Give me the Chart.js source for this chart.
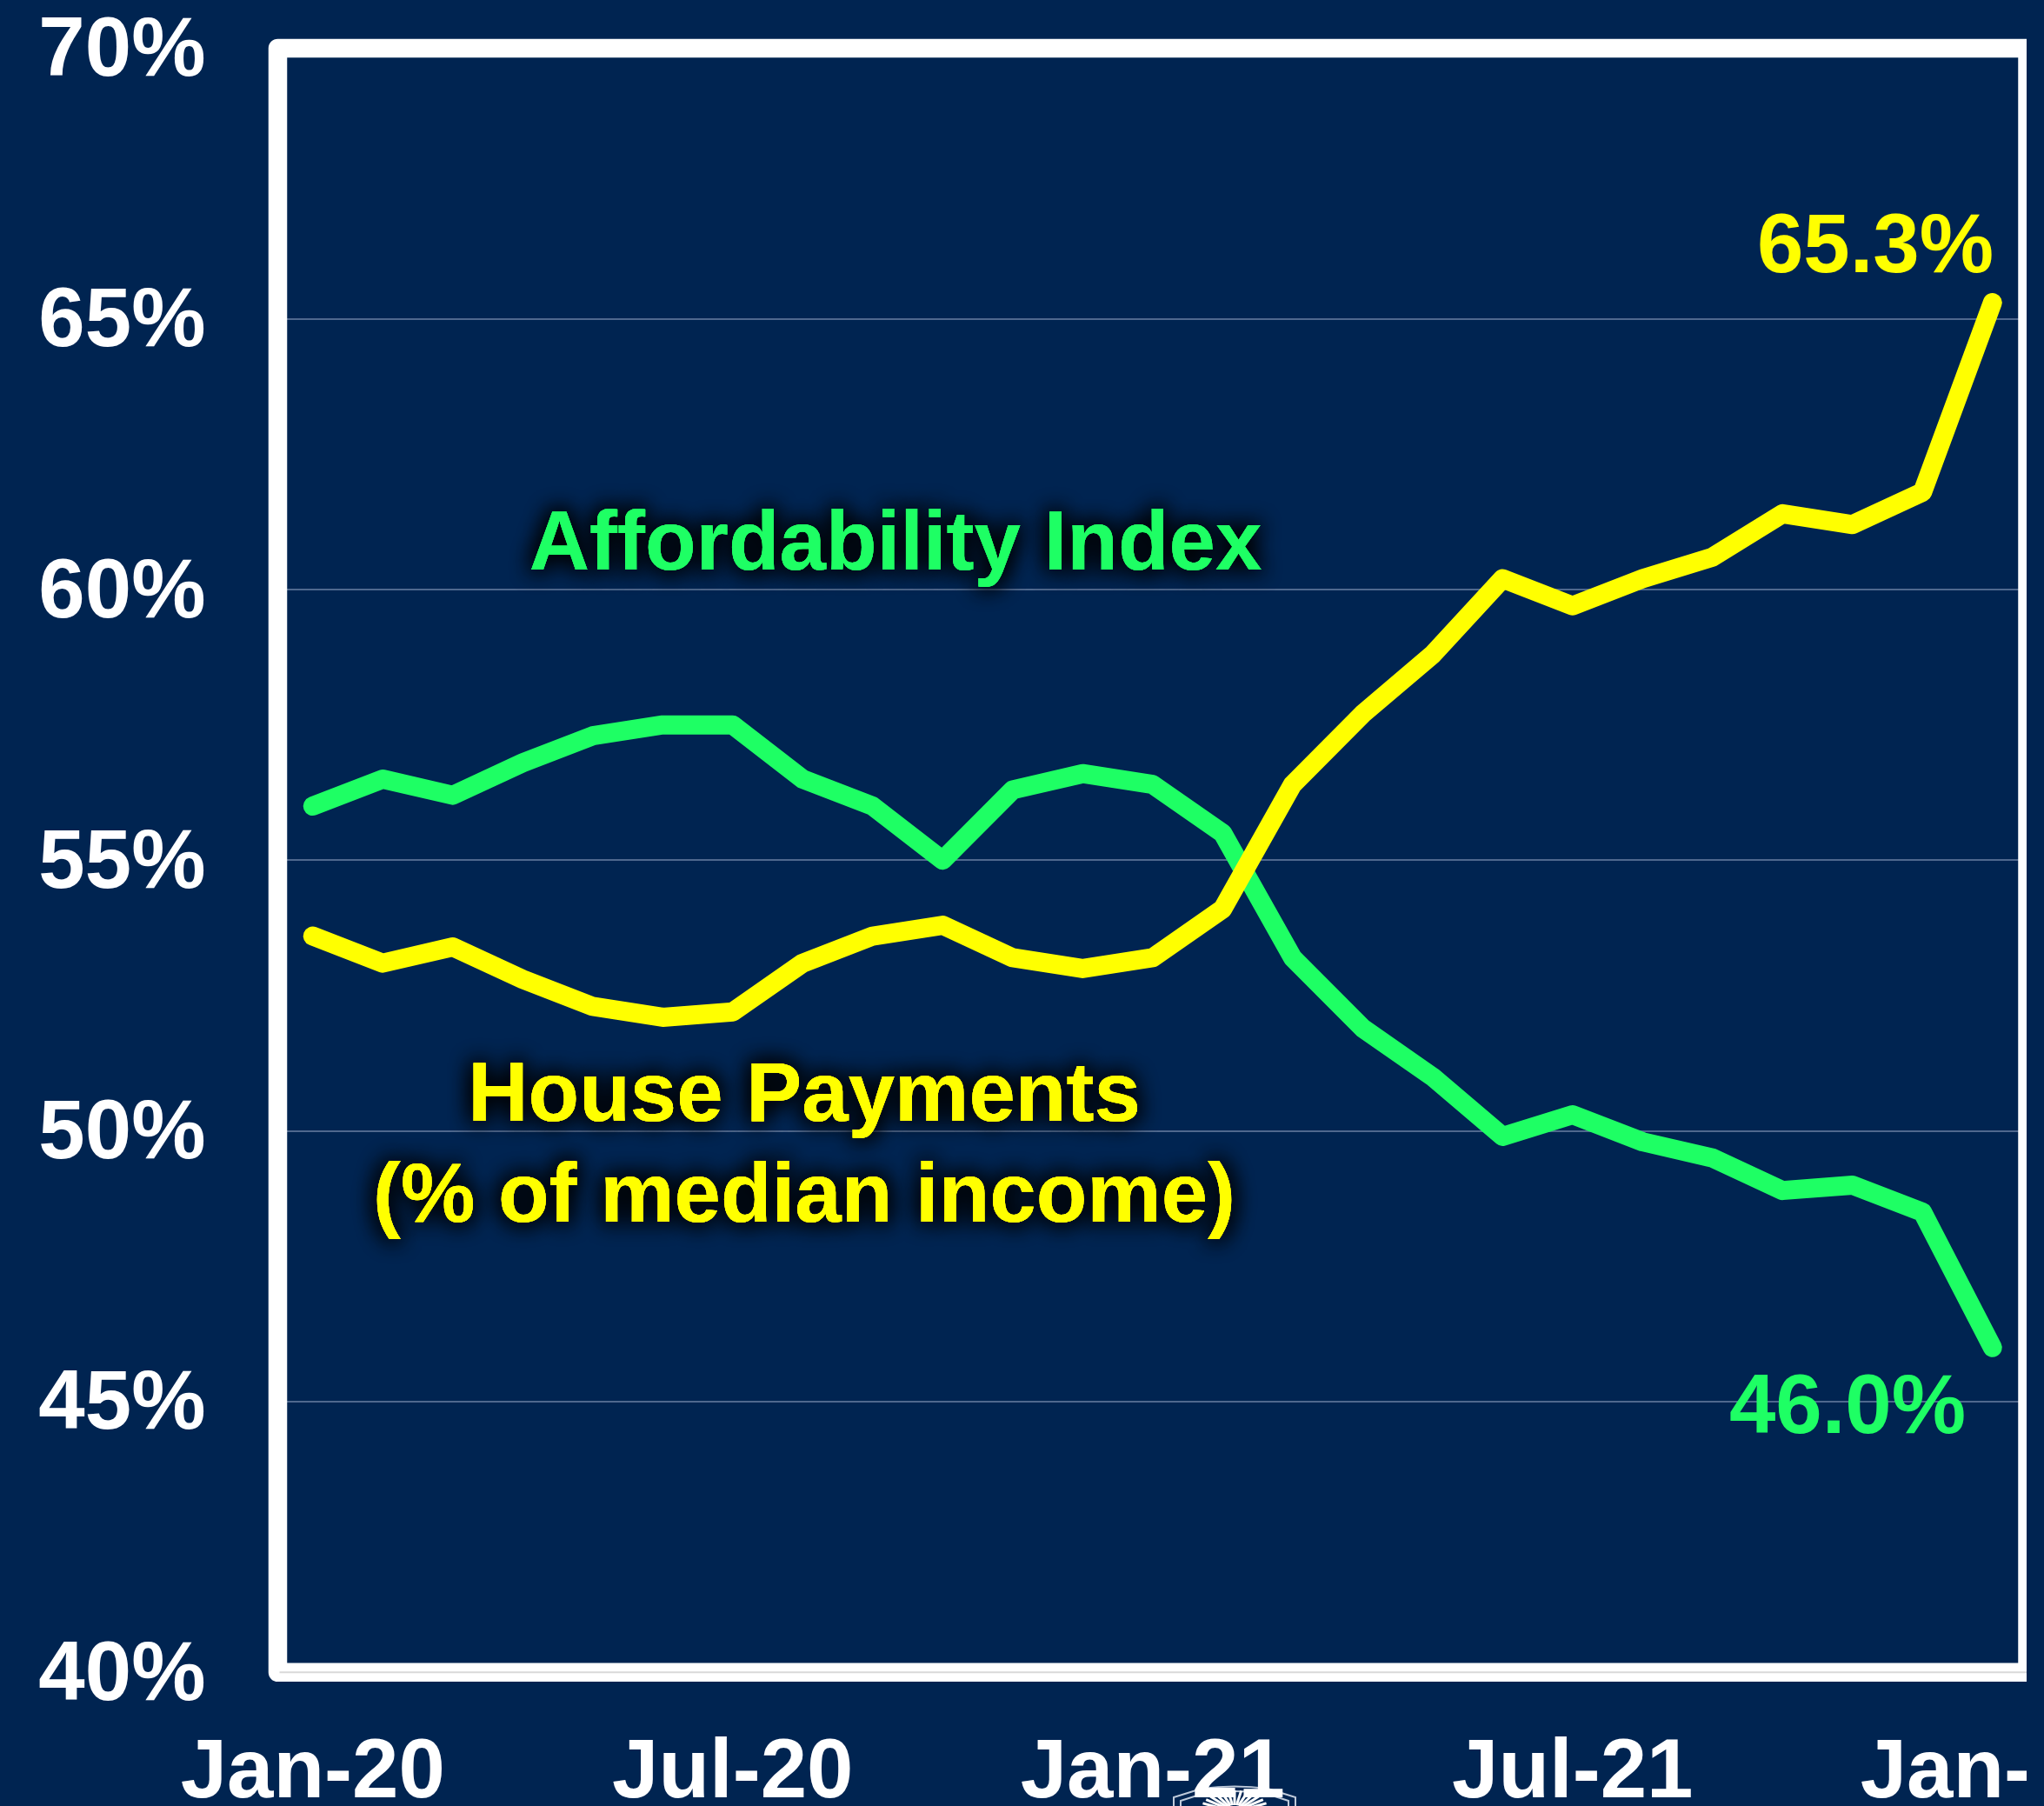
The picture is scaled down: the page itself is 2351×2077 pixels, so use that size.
<!DOCTYPE html>
<html>
<head>
<meta charset="utf-8">
<style>
html,body{margin:0;padding:0;background:#002451;overflow:hidden}
canvas{display:block;position:absolute;left:0;top:0}
</style>
<script src="https://cdn.jsdelivr.net/npm/chart.js@4"></script>
</head>
<body>
<canvas id="c" width="2351" height="2077"></canvas>
<script>
const months = ["Jan-20","Feb-20","Mar-20","Apr-20","May-20","Jun-20","Jul-20","Aug-20","Sep-20","Oct-20","Nov-20","Dec-20",
  "Jan-21","Feb-21","Mar-21","Apr-21","May-21","Jun-21","Jul-21","Aug-21","Sep-21","Oct-21","Nov-21","Dec-21","Jan-22"];
const shownLabels = ["Jan-20","Jul-20","Jan-21","Jul-21","Jan-22"];
const affordability = [56.0,56.5,56.2,56.8,57.3,57.5,57.5,56.5,56.0,55.0,56.3,56.6,56.4,55.5,53.2,51.9,51.0,49.9,50.3,49.8,49.5,48.9,49.0,48.5,46.0];
const housePayments = [53.6,53.1,53.4,52.8,52.3,52.1,52.2,53.1,53.6,53.8,53.2,53.0,53.2,54.1,56.4,57.7,58.8,60.2,59.7,60.2,60.6,61.4,61.2,61.8,65.3];

const NAVY = "#002451", GREEN = "#1EFF64", YELLOW = "#FFFF00";
const FONT = '"Liberation Sans", Arial, sans-serif';

const notes = [
  {text:"Affordability Index", x:1030, y:655, color:GREEN, glow:true},
  {text:"House Payments", x:925, y:1289, color:YELLOW, glow:true},
  {text:"(% of median income)", x:925, y:1405, color:YELLOW, glow:true},
  {text:"65.3%", x:2157, y:313, color:YELLOW, glow:false},
  {text:"46.0%", x:2125, y:1648, color:GREEN, glow:false}
];

const decor = {
  id:"decor",
  afterLayout(chart){
    for (const item of chart.scales.y.getLabelItems()) {
      item.options.translation[1] += 5;
    }
  },
  beforeDraw(chart){
    const g = chart.ctx;
    g.save();
    g.strokeStyle = "rgba(225,232,242,.85)";
    g.lineWidth = 2;
    g.beginPath();
    g.moveTo(1350,2077); g.lineTo(1350,2067); g.lineTo(1382,2057);
    g.quadraticCurveTo(1420,2052,1458,2057); g.lineTo(1490,2067); g.lineTo(1490,2077);
    g.stroke();
    g.beginPath();
    g.moveTo(1358,2077); g.lineTo(1358,2071); g.lineTo(1386,2062);
    g.quadraticCurveTo(1420,2058,1454,2062); g.lineTo(1482,2071); g.lineTo(1482,2077);
    g.stroke();
    g.strokeStyle = "#ffffff";
    g.lineWidth = 3;
    for (let a = -66; a <= 66; a += 11) {
      const r = a * Math.PI / 180;
      g.beginPath();
      g.moveTo(1420 + Math.sin(r)*12, 2084 - Math.cos(r)*8);
      g.lineTo(1420 + Math.sin(r)*40, 2084 - Math.cos(r)*25);
      g.stroke();
    }
    g.restore();
  },
  beforeDatasetsDraw(chart){
    const g = chart.ctx, a = chart.chartArea;
    g.save();
    g.strokeStyle = "#ffffff";
    g.lineWidth = 21.5;
    g.lineJoin = "round";
    g.strokeRect(a.left, a.top, a.right - a.left, a.bottom - a.top);
    g.strokeStyle = "#d9d9d9";
    g.lineWidth = 2;
    g.beginPath();
    g.moveTo(a.left + 2, a.bottom); g.lineTo(a.right, a.bottom);
    g.stroke();
    g.restore();
  },
  afterDatasetsDraw(chart){
    const g = chart.ctx;
    g.save();
    g.font = "bold 96px " + FONT;
    g.textAlign = "center";
    g.textBaseline = "alphabetic";
    for (const n of notes) {
      g.fillStyle = n.color;
      if (n.glow) {
        g.shadowColor = "rgba(0,0,0,.9)";
        g.shadowBlur = 26;
        g.fillText(n.text, n.x, n.y);
        g.fillText(n.text, n.x, n.y);
        g.fillText(n.text, n.x, n.y);
      }
      g.shadowBlur = 0;
      g.fillText(n.text, n.x, n.y);
    }
    g.restore();
  },
  afterDraw(chart){
    const g = chart.ctx;
    g.fillStyle = NAVY;
    g.fillRect(2331, 0, 20, 2077);
  }
};

new Chart(document.getElementById("c"), {
  type:"line",
  plugins:[decor],
  data:{
    labels:months,
    datasets:[
      {label:"Affordability Index", data:affordability, borderColor:GREEN, order:2},
      {label:"House Payments (% of median income)", data:housePayments, borderColor:YELLOW, order:1}
    ]
  },
  options:{
    responsive:false,
    animation:false,
    layout:{padding:{left:0,right:19,top:55.4,bottom:0}},
    elements:{
      line:{borderWidth:22,borderCapStyle:"round",borderJoinStyle:"round",tension:0,fill:false},
      point:{radius:0,hoverRadius:0}
    },
    plugins:{legend:{display:false},tooltip:{enabled:false},title:{display:false}},
    scales:{
      x:{
        type:"category",
        offset:true,
        grid:{display:false,drawTicks:false},
        border:{display:false},
        ticks:{
          autoSkip:false,maxRotation:0,minRotation:0,padding:60,color:"#ffffff",
          font:{family:FONT,weight:"bold",size:96},
          callback(v,i){ const t = months[i]; return shownLabels.includes(t) ? t : ""; }
        },
        afterFit(s){ s.height = 153.7; s.paddingLeft = 0; s.paddingRight = 0; }
      },
      y:{
        min:40,max:70,
        grid:{color:"#4f688e",lineWidth:2,drawTicks:false},
        border:{display:false},
        ticks:{
          stepSize:5,padding:83,color:"#ffffff",
          font:{family:FONT,weight:"bold",size:96},
          callback(v){ return v + "%"; }
        },
        afterFit(s){ s.width = 319.5; s.paddingTop = 0; s.paddingBottom = 0; }
      }
    }
  }
});
</script>
</body>
</html>
